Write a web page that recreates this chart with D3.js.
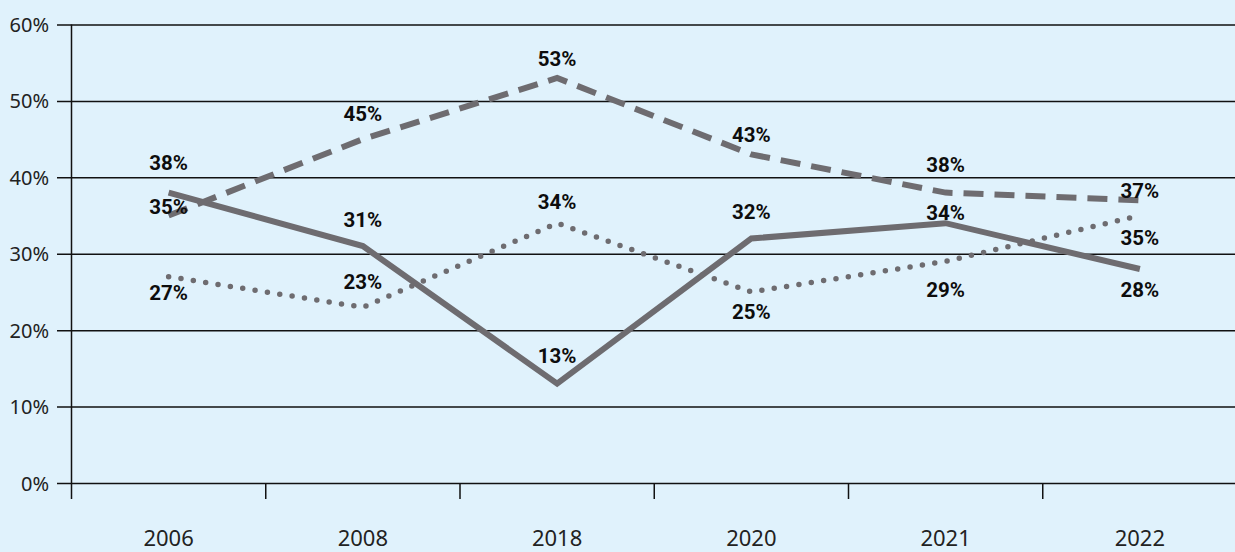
<!DOCTYPE html>
<html>
<head>
<meta charset="utf-8">
<script src="https://cdn.jsdelivr.net/npm/d3@7/dist/d3.min.js"></script>
<style>
  html, body { margin: 0; padding: 0; background: #e0f2fc; }
  svg { display: block; }
</style>
</head>
<body>
<svg id="chart" width="1235" height="552"></svg>
<script>
// Survey years along the x axis
const categories = ["2006", "2008", "2018", "2020", "2021", "2022"];

// Three series, in percent
const solidValues  = [38, 31, 13, 32, 34, 28];
const dashedValues = [35, 45, 53, 43, 38, 37];
const dottedValues = [27, 23, 34, 25, 29, 35];

// Y axis ticks (percent)
const yTicks = [0, 10, 20, 30, 40, 50, 60];

// Vertical nudges for each value label, in pixels (negative = above the point)
const solidLabelShift  = [-30, -26, -28, -27, -10, 21];
const dashedLabelShift = [-9, -25, -19, -20, -28, -9];
const dottedLabelShift = [16, -25, -21, 19.5, 28, 22];

const W = 1235, H = 552;
const plotLeft = 71.5, plotRight = 1237, plotTop = 24.5, plotBottom = 483;
const gridStart = 57;
const ink = "#111111";
const lineColor = "#6e6c70";

const svg = d3.select("#chart");

svg.append("rect")
  .attr("width", W).attr("height", H)
  .attr("fill", "#e0f2fc");

const x = d3.scaleBand().domain(categories).range([plotLeft, plotRight]);
const y = d3.scaleLinear().domain([0, 60]).range([plotBottom, plotTop]);
const cx = d => x(d) + x.bandwidth() / 2;

// Horizontal gridlines with percentage labels on the left
const yAxis = svg.append("g")
  .attr("transform", `translate(${gridStart},0)`)
  .call(d3.axisRight(y)
    .tickValues(yTicks)
    .tickSize(W - gridStart)
    .tickFormat(d => d + "%"));
yAxis.select(".domain").remove();
yAxis.selectAll(".tick line")
  .attr("stroke", ink)
  .attr("stroke-width", 1.5);
yAxis.selectAll(".tick text")
  .attr("x", -8)
  .attr("dy", "0.35em")
  .attr("text-anchor", "end")
  .attr("fill", "#222")
  .style("font-family", "'Noto Sans', sans-serif")
  .style("font-size", "20px");

// Vertical axis line, running a little below zero
svg.append("line")
  .attr("x1", plotLeft).attr("x2", plotLeft)
  .attr("y1", plotTop).attr("y2", plotBottom + 16)
  .attr("stroke", ink).attr("stroke-width", 1.5);

// Category separators below the baseline
svg.append("g").selectAll("line")
  .data(categories.slice(1))
  .join("line")
  .attr("x1", d => x(d)).attr("x2", d => x(d))
  .attr("y1", plotBottom).attr("y2", plotBottom + 16)
  .attr("stroke", ink).attr("stroke-width", 1.5);

// Year labels
const xAxis = svg.append("g")
  .attr("transform", `translate(0,${plotBottom})`)
  .call(d3.axisBottom(x).tickSize(0));
xAxis.select(".domain").remove();
xAxis.selectAll(".tick text")
  .attr("y", 63)
  .attr("dy", 0)
  .attr("fill", "#222")
  .style("font-family", "'Noto Sans', sans-serif")
  .style("font-size", "22px");

const line = d3.line()
  .x((d, i) => cx(categories[i]))
  .y(d => y(d));

const series = [
  { values: solidValues,  shift: solidLabelShift,  width: 6,   dash: null,     cap: "butt"  },
  { values: dashedValues, shift: dashedLabelShift, width: 6,   dash: "20 11",  cap: "butt"  },
  { values: dottedValues, shift: dottedLabelShift, width: 5.5, dash: "0 12.5", cap: "round" }
];

series.forEach(s => {
  svg.append("path")
    .datum(s.values)
    .attr("d", line)
    .attr("fill", "none")
    .attr("stroke", lineColor)
    .attr("stroke-width", s.width)
    .attr("stroke-linejoin", "miter")
    .attr("stroke-linecap", s.cap)
    .attr("stroke-dasharray", s.dash);
});

series.forEach(s => {
  svg.append("g").selectAll("text")
    .data(s.values)
    .join("text")
    .attr("x", (d, i) => cx(categories[i]))
    .attr("y", (d, i) => y(d) + s.shift[i])
    .attr("dy", "0.35em")
    .attr("text-anchor", "middle")
    .attr("fill", "#0d0d0d")
    .style("font-family", "Roboto, sans-serif")
    .style("font-weight", "700")
    .style("font-size", "20.5px")
    .text(d => d + "%");
});
</script>
</body>
</html>
